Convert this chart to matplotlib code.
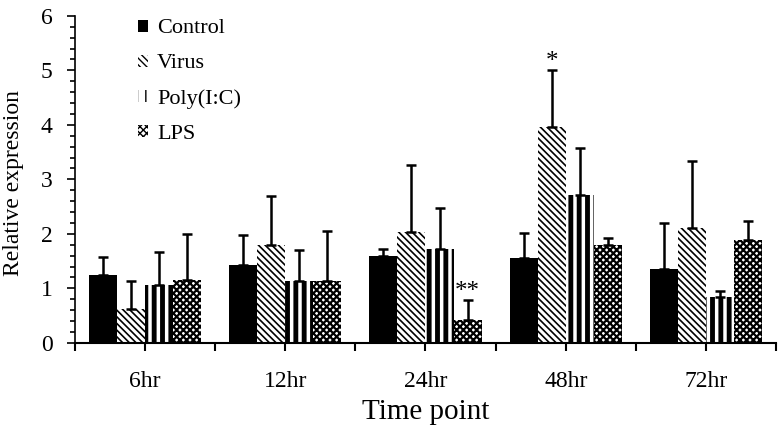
import numpy as np
import matplotlib
matplotlib.use('Agg')
import matplotlib.pyplot as plt
from matplotlib.ticker import MultipleLocator

plt.rcParams['font.family'] = ['Liberation Serif', 'DejaVu Serif']

time_points = ['6hr', '12hr', '24hr', '48hr', '72hr']
groups = ['Control', 'Virus', 'Poly(I:C)', 'LPS']
control = [1.25, 1.42, 1.59, 1.56, 1.36]
virus = [0.62, 1.79, 2.04, 3.96, 2.11]
polyic = [1.06, 1.13, 1.73, 2.72, 0.85]
lps = [1.15, 1.13, 0.41, 1.79, 1.89]
control_err = [0.33, 0.56, 0.13, 0.45, 0.83]
virus_err = [0.52, 0.91, 1.22, 1.04, 1.23]
polyic_err = [0.61, 0.57, 0.74, 0.85, 0.10]
lps_err = [0.85, 0.92, 0.37, 0.13, 0.35]
stars = {(2, 3): '**', (3, 1): '*'}

values = [control, virus, polyic, lps]
errors = [control_err, virus_err, polyic_err, lps_err]
hatches = [None, '\\\\\\\\\\', '||', 'xxxxx']
hatch_lw = [1.0, 1.2, 3.5, 1.6]

fig = plt.figure(figsize=(7.8, 4.28), dpi=100)
ax = fig.add_axes([0.096, 0.199, 0.899, 0.764])

x = np.arange(len(time_points))
w = 0.2
offsets = [-0.3, -0.1, 0.1, 0.3]
for i in range(4):
    with plt.rc_context({'hatch.linewidth': hatch_lw[i]}):
        if hatches[i] is None:
            bars = ax.bar(x + offsets[i], values[i], w, color='black', edgecolor='black', linewidth=0, label=groups[i])
        else:
            bars = ax.bar(x + offsets[i], values[i], w, color='white', edgecolor='black', linewidth=0,
                          hatch=hatches[i], label=groups[i])
        for b in bars:
            if hasattr(b, 'set_hatch_linewidth'):
                b.set_hatch_linewidth(hatch_lw[i])
    ax.errorbar(x + offsets[i], values[i], yerr=[np.zeros(5), errors[i]], fmt='none',
                ecolor='black', elinewidth=1.8, capsize=3.5, capthick=1.8)

# significance marks sit just above the error bar
for (g, s), txt in stars.items():
    top = values[s][g] + errors[s][g]
    ax.text(x[g] + offsets[s], top - 0.05, txt, ha='center', va='bottom', fontsize=18)

ax.set_xlim(-0.5, 4.5)
ax.set_ylim(0, 6)
ax.set_xticks(x)
ax.set_xticklabels(time_points, fontsize=17)
ax.xaxis.set_minor_locator(MultipleLocator(1, offset=0.5))
ax.yaxis.set_major_locator(MultipleLocator(1))
ax.yaxis.set_minor_locator(MultipleLocator(0.2))
ax.tick_params(axis='x', which='both', direction='out', length=6, width=1.5, pad=14)
ax.tick_params(axis='y', which='major', direction='out', length=6, width=1.2, labelsize=17, pad=10)
ax.tick_params(axis='y', which='minor', direction='out', length=3.5, width=1.2)
for sp in ['top', 'right']:
    ax.spines[sp].set_visible(False)
ax.spines['left'].set_linewidth(1.2)
ax.spines['bottom'].set_linewidth(1.5)

ax.set_xlabel('Time point', fontsize=21, labelpad=5)
ax.set_ylabel('Relative expression', fontsize=17)
ax.yaxis.set_label_coords(-0.072, 0.49)

leg = ax.legend(loc='upper left', bbox_to_anchor=(0.062, 1.05), frameon=False, fontsize=16,
                handlelength=0.45, handleheight=0.45, handletextpad=0.4, labelspacing=0.72)

fig.savefig('out.png', dpi=100)
